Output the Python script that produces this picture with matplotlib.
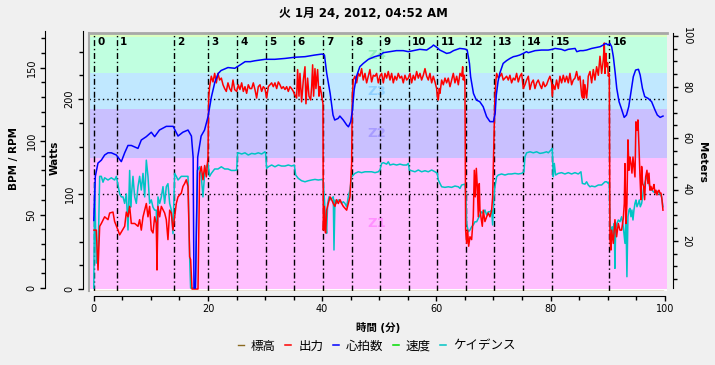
import matplotlib
matplotlib.use('Agg')
import matplotlib.pyplot as plt
from matplotlib.ticker import MultipleLocator
from matplotlib.lines import Line2D

plt.rcParams['font.family'] = ['DejaVu Sans', 'Noto Sans CJK JP']

# ---- data (time in minutes) ----
power_t = [0.04, 0.44, 0.74, 1.03, 1.32, 1.90, 2.49, 2.78, 3.36, 3.65,
           4.24, 4.53, 4.82, 5.41, 5.70, 5.99, 6.28, 6.57, 7.16, 7.74,
           8.03, 8.32, 8.62, 8.91, 9.20, 9.49, 9.78, 10.07, 10.37, 10.66,
           10.95, 11.07, 11.24, 11.54, 11.83, 12.41, 12.70, 12.99, 13.29, 13.58,
           13.87, 14.45, 14.75, 15.33, 15.62, 15.91, 16.20, 16.50, 16.79, 16.96,
           17.20, 18.25, 18.54, 18.83, 19.12, 19.42, 19.71, 20.00, 20.12, 20.29,
           20.58, 20.88, 21.17, 21.46, 21.75, 22.04, 22.34, 22.63, 22.92, 23.21,
           23.50, 23.80, 24.09, 24.38, 24.67,
           25.02, 25.31, 25.60, 25.90, 26.19, 26.48, 26.77, 27.06, 27.36, 27.65,
           27.94, 28.23, 28.52, 28.81, 29.11, 29.40, 29.69, 29.98, 30.27, 30.57,
           30.86, 31.15, 31.44, 31.73, 32.03, 32.32, 32.61, 32.90, 33.19, 33.49,
           33.78, 34.07, 34.36, 34.65, 34.95, 35.24, 35.53, 35.70, 35.94, 36.11,
           36.40, 36.70, 36.99, 37.16, 37.45, 37.69, 37.98, 38.16, 38.33, 38.50,
           38.74, 38.91, 39.20, 39.44, 39.61, 39.79, 40.02, 40.14, 40.20, 40.37,
           40.49, 40.61, 40.78, 41.07, 41.37, 41.66, 41.95, 42.24, 42.53, 42.83,
           43.12, 43.41, 43.70, 43.99, 44.29, 44.58, 44.87, 45.04, 45.16, 45.28,
           45.45, 45.74, 46.04, 46.33, 46.62, 46.91, 47.20, 47.50, 47.79, 48.08,
           48.37, 48.66, 48.96, 49.25, 49.54, 49.83, 50.12,
           50.42, 50.71, 51.00, 51.29, 51.58, 51.88, 52.17, 52.46, 52.75, 53.04,
           53.33, 53.63, 53.92, 54.21, 54.50, 54.80, 55.09, 55.38, 55.67, 55.96,
           56.25, 56.55, 56.84, 57.13, 57.42, 57.71, 58.01, 58.30, 58.59, 58.88,
           59.18, 59.47, 59.76, 60.05, 60.17, 60.34, 60.52, 60.63, 60.93, 61.22,
           61.51, 61.80, 62.09, 62.39, 62.68, 62.97, 63.26, 63.56, 63.85, 64.14,
           64.43, 64.61, 64.72, 64.90, 65.01, 65.13, 65.31, 65.48, 65.66, 65.89,
           66.18, 66.47, 66.65, 66.82, 67.00, 67.17, 67.35, 67.52, 67.64, 67.81,
           68.05, 68.22, 68.51, 68.81, 69.10, 69.39, 69.68, 69.86, 70.09, 70.26,
           70.44, 70.56, 70.85, 71.14, 71.43, 71.72, 72.02, 72.31, 72.60, 72.89,
           73.18, 73.48, 73.77, 74.06, 74.35, 74.65, 74.94, 75.23, 75.52, 75.81,
           76.11,
           76.39, 76.68, 76.98, 77.27, 77.56, 77.85, 78.14, 78.44, 78.73, 79.02,
           79.31, 79.61, 79.90, 80.19, 80.30, 80.48, 80.77, 81.06, 81.36, 81.65,
           81.94, 82.23, 82.52, 82.82, 83.11, 83.40, 83.69, 83.98, 84.28, 84.57,
           84.86, 85.15, 85.45, 85.62, 85.74, 85.91, 86.03, 86.32, 86.50, 86.61,
           86.91, 87.20, 87.49, 87.78, 88.07, 88.37, 88.66, 88.95, 89.24, 89.42,
           89.54, 89.71, 89.83, 90.00, 90.12, 90.29, 90.41, 90.58, 90.70, 90.99,
           91.28, 91.57, 91.87, 92.16, 92.45, 92.74, 92.92, 93.04, 93.21, 93.38,
           93.56, 93.74, 93.91, 94.09, 94.26, 94.44, 94.61, 94.79, 94.96, 95.14,
           95.31, 95.49, 95.67, 95.84, 95.96, 96.13, 96.31, 96.48, 96.66, 96.89,
           97.06, 97.24, 97.42, 97.59, 97.77, 97.94, 98.12, 98.29, 98.47, 98.64,
           98.82, 98.99, 99.17, 99.34, 99.52, 99.69]
power_w = [62, 62, 20, 66, 69, 76, 73, 80, 81, 71,
           62, 57, 60, 66, 81, 76, 87, 69, 69, 66,
           73, 62, 76, 83, 90, 76, 87, 62, 59, 76,
           69, 20, 87, 76, 87, 80, 73, 52, 83, 80,
           62, 90, 97, 101, 108, 111, 115, 108, 34, 31,
           0, 0, 122, 129, 115, 130, 118, 139, 202, 213,
           224, 218, 227, 217, 227, 220, 222, 215, 211, 208,
           217, 211, 208, 220, 210,
           208, 215, 210, 217, 208, 213, 206, 215, 211, 211,
           217, 210, 201, 213, 215, 208, 213, 211, 201, 213,
           215, 217, 213, 217, 211, 218, 215, 211, 213, 210,
           213, 208, 213, 211, 208, 204, 201, 231, 203, 227,
           197, 220, 234, 195, 222, 203, 199, 213, 236, 203,
           232, 211, 231, 203, 213, 208, 199, 195, 62, 87,
           62, 59, 83, 90, 97, 94, 90, 87, 94, 90,
           94, 90, 87, 85, 83, 90, 97, 118, 132, 203,
           220, 224, 217, 227, 224, 232, 220, 227, 217, 224,
           231, 218, 225, 224, 227, 217, 224,
           227, 217, 227, 222, 229, 220, 227, 217, 224, 220,
           227, 222, 224, 217, 225, 220, 222, 227, 217, 225,
           220, 229, 222, 227, 220, 225, 232, 224, 220, 227,
           217, 224, 218, 211, 203, 199, 211, 206, 220, 215,
           222, 217, 222, 213, 220, 227, 217, 224, 215, 227,
           224, 234, 220, 225, 217, 62, 48, 62, 45, 55,
           52, 76, 125, 97, 127, 108, 76, 111, 83, 76,
           66, 83, 71, 76, 80, 76, 83, 97, 157, 203,
           220, 227, 222, 224, 227, 220, 222, 224, 220, 225,
           217, 222, 220, 227, 218, 224, 227, 211, 215, 220,
           224,
           210, 217, 220, 211, 217, 220, 215, 211, 218, 213,
           215, 220, 224, 217, 203, 215, 210, 220, 211, 224,
           217, 225, 218, 224, 217, 227, 215, 220, 222, 229,
           220, 224, 204, 201, 220, 201, 215, 201, 213, 224,
           229, 217, 231, 220, 234, 225, 245, 227, 241, 259,
           227, 248, 234, 238, 224, 227, 52, 41, 62, 48,
           73, 55, 69, 62, 62, 74, 90, 132, 69, 90,
           157, 125, 139, 132, 122, 139, 129, 118, 176, 167,
           178, 150, 118, 94, 129, 111, 108, 94, 118, 125,
           111, 122, 104, 108, 104, 106, 110, 101, 104, 99,
           103, 104, 101, 101, 94, 83]

hr_t = [0.0, 0.27, 0.73, 1.32, 1.90, 2.49, 3.07, 3.95, 4.82, 5.41,
        5.99, 6.57, 7.74, 8.32, 9.20, 10.07, 10.66, 11.5, 12.7, 13.9,
        14.75, 15.6, 16.5, 17.1, 17.4, 17.55, 17.8, 18.2, 18.8, 19.4,
        20.0, 20.6, 21.2, 21.8, 22.3, 23.5, 24.7,
        25.6, 26.5, 27.4, 28.2, 30.0, 31.7, 33.5, 35.2, 37.0, 38.7,
        40.0, 40.4, 40.8, 41.4, 41.9, 42.2, 42.8, 43.1, 43.7, 44.3,
        44.6, 45.0, 45.3, 45.6, 46.0, 46.6, 47.2, 48.1, 49.2, 50.2,
        50.7, 51.9, 53.0, 54.2, 55.1, 56.0, 57.1, 58.3, 59.2, 59.5,
        60.1, 60.6, 61.2, 61.8, 62.4, 63.0, 64.1, 65.0, 65.4, 65.8,
        66.0, 66.5, 67.0, 67.6, 68.2, 68.8, 69.4, 70.0, 70.3, 70.5,
        70.8, 71.1, 71.7, 72.3, 72.9, 73.5, 74.0, 74.6, 75.2, 75.8,
        76.1, 77.3, 78.4, 79.6, 80.3, 80.8, 81.9, 82.5, 83.1, 84.3,
        84.6, 85.2, 85.7, 86.3, 87.2, 88.1, 88.7, 89.2, 89.7, 90.1,
        90.4, 90.7, 91.0, 91.3, 91.6, 92.0, 92.4, 92.9, 93.3, 93.7,
        94.1, 94.5, 94.9, 95.4, 95.7, 96.1, 96.5, 97.1, 97.7, 98.3,
        98.7, 99.2, 99.7]
hr_bpm = [46, 76, 85, 87, 90.5, 92, 92, 90.5, 86, 92,
          97, 97, 95, 100.7, 103, 106, 103, 107.5, 110, 110,
          103.4, 106, 107.5, 103.4, 89, 0, 0, 89, 103.4, 107.5,
          116.5, 130, 140, 146, 148, 150, 149.5,
          151.7, 154, 154, 154.6, 155.6, 155.6, 156.2, 157, 157.4, 158.5,
          159.2, 158.5, 146, 132.4, 117.7, 114.3, 115.4, 117, 114.3, 110.9,
          109.7, 113.1, 121, 134.7, 143.8, 150.6, 152.8, 155.6, 157.4, 158.5,
          160.1, 160.8, 161.5, 161.5, 160.8, 161.5, 162.4, 161.9, 164.2, 165.3,
          163.7, 161.9, 160.8, 159.6, 160.1, 161.5, 163, 162.6, 161.9, 152.8,
          143.8, 132.4, 127.9, 126.8, 123.4, 116.6, 113.2, 113.2, 118.8, 131.3,
          140.4, 146, 152.8, 154.7, 156.2, 157.4, 157.8, 158.5, 159.6, 160.8,
          160.1, 161.5, 161.9, 161.9, 162.4, 163, 162.4, 161.5, 162.4, 163,
          160.8, 161.5, 161.5, 161.9, 163, 163.7, 164.2, 165.3, 166.4, 165.3,
          166.4, 164.2, 157.4, 147.2, 135.8, 126.8, 122.2, 116.1, 117.7, 123.4,
          133.6, 143.8, 148.3, 148.8, 144.9, 135.8, 130.2, 129, 126.8, 121.1,
          117.7, 116.1, 117]

cad_t = [0.0, 0.15, 0.44, 0.74, 1.03, 1.32, 1.61, 1.90, 2.49, 3.07,
         3.65, 3.95, 4.24, 4.53, 4.82, 5.12, 5.41, 5.70, 5.99, 6.28,
         6.45, 6.57, 6.86, 7.16, 7.45, 7.74, 8.03, 8.32, 8.62, 8.91,
         9.20, 9.49, 9.78, 10.07, 10.37, 10.66, 10.95, 11.07, 11.24, 11.54,
         11.83, 12.12, 12.41, 12.70, 12.99, 13.29, 13.58, 13.87, 14.16, 14.45,
         14.75, 15.33, 15.91, 16.50, 16.79, 16.96, 17.8, 18.13, 18.54, 18.83,
         19.12, 19.42, 19.71, 20.0, 20.29, 20.58, 21.17, 21.75, 22.34, 22.92,
         23.50, 24.09, 24.67,
         25.02, 25.19, 25.31, 25.90, 26.48, 27.06, 27.65, 28.23, 28.81, 29.40,
         29.98, 30.10, 30.27, 30.57, 31.15, 31.73, 32.32, 32.90, 33.49, 34.07,
         34.65, 35.12, 35.36, 35.82, 36.40, 36.99, 37.57, 38.16, 38.74, 39.32,
         40.02, 40.20, 40.49, 40.61, 40.78, 40.96, 41.2, 41.37, 41.66, 41.95,
         42.07, 42.24, 42.53, 42.83, 43.12, 43.41, 43.70, 43.99, 44.29, 44.58,
         44.87, 45.16, 45.45, 45.74, 46.33, 46.91, 47.50, 48.08, 48.66, 49.25,
         49.83, 50.12, 50.42,
         50.71, 51.29, 51.58, 51.88, 52.46, 53.04, 53.63, 54.21, 54.80, 55.09,
         55.27, 55.67, 56.25, 56.84, 57.42, 58.01, 58.59, 59.18, 59.76, 60.17,
         60.34, 60.63, 60.93, 61.51, 62.09, 62.68, 63.26, 63.85, 64.14, 64.43,
         65.01, 65.19, 65.31, 65.60, 65.89, 66.18, 66.47, 66.77, 67.06, 67.35,
         67.64, 67.94, 68.22, 68.51, 68.81, 69.10, 69.39, 69.68, 69.86, 70.09,
         70.26, 70.56, 70.85, 71.43, 72.02, 72.60, 73.18, 73.77, 74.35, 74.94,
         75.34, 75.52, 75.81, 76.40,
         76.98, 77.56, 78.14, 78.73, 79.31, 79.61, 80.08, 80.30, 80.48, 80.66,
         80.89, 81.36, 81.94, 82.52, 83.11, 83.69, 84.28, 84.86, 85.33, 85.57,
         86.03, 86.32, 86.61, 86.91, 87.20, 87.78, 88.37, 88.95, 89.24, 89.54,
         89.83, 90.12, 90.29, 90.41, 90.58, 90.82, 90.99, 91.16, 91.28, 91.40,
         91.63, 91.87, 92.16, 92.45, 92.74, 93.04, 93.21, 93.38, 93.56, 93.74,
         93.91, 94.09, 94.26, 94.44, 94.61, 94.79, 94.96, 95.14, 95.37, 95.55,
         95.72, 95.96, 96.13, 96.31, 96.48, 96.66, 96.83, 97.00, 97.18, 97.36,
         97.53, 97.71, 98.00, 98.29, 98.58, 98.87, 99.17, 99.46, 99.69]
cad_rpm = [0, 71, 17, 19, 76, 76, 72, 75, 73.5, 75,
           73.5, 76, 70, 64, 62, 62, 57.6, 64, 39.5, 80,
           55, 62, 76, 62, 57.6, 69, 76, 66.7, 78, 62,
           87, 76, 57.6, 60, 55, 53, 53, 21, 62, 57.6,
           62, 69, 57.6, 69, 71, 57.6, 53, 37, 78, 76,
           73.5, 76, 76, 76, 21, 0, 0, 80, 82.5, 76,
           62, 78, 82.5, 85, 76, 78, 81, 81, 82.5, 81,
           81, 80, 80,
           80.3, 92, 92, 91.2, 92, 90.5, 91.6, 91.2, 92, 91.2,
           92.7, 91.6, 81.4, 82.5, 83.7, 82.5, 83.7, 83, 83, 83.7,
           83, 83.7, 76.9, 74.6, 73, 72.3, 73, 73.5, 73.9, 73.5,
           73.9, 72.3, 53, 46.3, 37.2, 57.6, 62.1, 59.9, 61, 62.1,
           25.9, 59.9, 57.6, 59.9, 59.9, 57.6, 58.7, 57.6, 55.3, 62.1,
           66.7, 75.7, 76.9, 78, 79.1, 78.5, 79.1, 79.1, 79.1, 78.5,
           79.1, 80.3, 84.8,
           85.3, 84.3, 85.9, 83.7, 84.3, 83.7, 84.3, 83.7, 83.7, 84.8,
           80.3, 79.8, 79.1, 80.3, 79.1, 79.8, 79.1, 80.3, 79.1, 78,
           73.5, 71.2, 68.9, 68.5, 68.9, 68.5, 69.4, 68.9, 67.8, 70.1,
           70.7, 62.1, 44, 38.3, 39.5, 41.7, 42.9, 45.1, 45.1, 47.4,
           49.7, 51.9, 50.8, 53.1, 49.7, 51.9, 51.9, 53.1, 42.9, 62.1,
           68.9, 75.7, 76.9, 77.6, 76.9, 77.6, 77.6, 78, 77.6, 78,
           79.1, 89.3, 92, 92.7,
           92, 92.7, 91.6, 92, 92.7, 92, 93.9, 95, 75.7, 84.8,
           76.9, 78, 78.5, 77.6, 78.5, 77.6, 78.5, 77.6, 79.1, 71.2,
           70.7, 72.3, 70.1, 68.9, 69.4, 68.9, 70.1, 70.1, 71.2, 72.3,
           72.3, 71.2, 72.3, 44, 39.5, 41.7, 34.9, 44, 13.4, 39.5,
           44, 46.3, 45.1, 48.5, 41.7, 30.4, 48.5, 7.7, 48.5, 53.1,
           54.2, 48.5, 53.1, 46.3, 53.1, 57.6, 59.9, 55.3, 57.6, 59.9,
           55.3, 57.6, 62.1, 68.9, 71.2, 73.5, 75.7, 74.6, 72.3, 68.9,
           66.7, 67.1, 65.5, 64.9, 64.4, 65.5, 64, 62.1, 55.3]

alt_t = [0.0, 99.7]
alt_m = [0.5, 0.5]
speed_t = []
speed_kph = []

interval_t = [0, 4.0, 14.0, 20.0, 25.05, 30.1, 35.1, 40.15, 45.2,
              50.2, 55.15, 60.2, 65.15, 70.15, 75.25, 80.25, 90.3]
interval_names = ['0', '1', '2', '3', '4', '5', '6', '7', '8',
                  '9', '10', '11', '12', '13', '14', '15', '16']

zone_names = ['Z1', 'Z2', 'Z3', 'Z4', 'Z5']
zone_lo = [0, 138, 189, 227, 265]
zone_hi = [138, 189, 227, 265, 302]
zone_fill = ['#ffbfff', '#c9c0ff', '#c0e8ff', '#c0ffe0', '#dcffc0']
zone_text = ['#ff90ff', '#a89cff', '#8fd0ff', '#8ff2bf', '#b8f090']

title = '火 1月 24, 2012, 04:52 AM'

PX = 72 / 100  # points per pixel at 100 dpi

# ---- figure ----
fig = plt.figure(figsize=(7.15, 3.65), dpi=100)
fig.patch.set_facecolor('#f0f0f0')
rect = [89 / 715, 74 / 365, 578 / 715, 258 / 365]

ax = fig.add_axes(rect)
ax.set_xlim(-0.84, 100.4)
ax.set_ylim(-2.1, 269.5)
ax.set_facecolor('white')

for lo, hi, c in zip(zone_lo, zone_hi, zone_fill):
    ax.axhspan(lo, hi, color=c, lw=0, zorder=0)
for name, lo, hi, c in zip(zone_names, zone_lo, zone_hi, zone_text):
    mid = (lo + hi) / 2
    if mid < ax.get_ylim()[1]:
        ax.text(49.5, mid, name, color=c, fontsize=9.5, fontweight='bold',
                ha='center', va='center', zorder=1)

for w in [100, 200]:
    ax.axhline(w, color='black', lw=1, ls=(0, (1, 2.2)), zorder=2)
for t, name in zip(interval_t, interval_names):
    ax.axvline(t, color='black', lw=1, ls=(0, (4.3, 2, 1, 2)), zorder=2)
    ax.annotate(name, (t, 0.966), xycoords=('data', 'axes fraction'),
                xytext=(2.5, 0), textcoords='offset points',
                fontsize=7.5, fontweight='bold', ha='left', va='center')

# spines: left = Watts scale, bottom = time scale, top = frame
ax.spines['right'].set_visible(False)
ax.spines['top'].set_color('#a8a8a8')
ax.spines['top'].set_linewidth(2)
ax.spines['left'].set_position(('outward', 6 * PX))
ax.spines['left'].set_bounds(0, 272)
ax.spines['bottom'].set_position(('outward', 5 * PX))
ax.spines['bottom'].set_bounds(0, 100)
ax.add_line(Line2D([0, 0], [0, 1], transform=ax.transAxes, color='#a8a8a8',
                   lw=1.5, clip_on=False))
ax.xaxis.set_major_locator(MultipleLocator(20))
ax.xaxis.set_minor_locator(MultipleLocator(5))
ax.yaxis.set_major_locator(MultipleLocator(100))
ax.yaxis.set_minor_locator(MultipleLocator(25))
ax.tick_params(which='both', direction='out', width=1, labelsize=7, pad=2.5)
ax.tick_params(which='major', length=5 * PX)
ax.tick_params(which='minor', length=4 * PX)
ax.tick_params(axis='y', labelrotation=90)
plt.setp(ax.get_yticklabels(), va='center')


def overlay(ylim):
    a = ax.twinx()
    a.set_ylim(*ylim)
    for s in a.spines.values():
        s.set_visible(False)
    a.tick_params(right=False, labelright=False)
    return a


# meters (right)
axm = overlay((0.39, 101.1))
axm.spines['right'].set_visible(True)
axm.spines['right'].set_position(('outward', 6 * PX))
axm.spines['right'].set_bounds(1.5, 101)
axm.yaxis.set_major_locator(MultipleLocator(20))
axm.yaxis.set_minor_locator(MultipleLocator(5))
axm.tick_params(which='both', right=True, labelright=True, direction='out',
                width=1, labelsize=7, pad=2.5, labelrotation=-90)
axm.tick_params(which='major', length=5 * PX)
axm.tick_params(which='minor', length=4 * PX)
plt.setp(axm.get_yticklabels(), va='center')
l_alt, = axm.plot(alt_t, alt_m, color='#8a6a20', lw=1)

# cadence (BPM / RPM scale)
axc = overlay((-2.0, 173.5))
l_cad, = axc.plot(cad_t, cad_rpm, color='#00c4c4', lw=1.1)
l_spd, = axc.plot(speed_t, speed_kph, color='#00dd00', lw=1.1)

# power (watts)
axp = overlay(ax.get_ylim())
l_pow, = axp.plot(power_t, power_w, color='#ff0000', lw=1.1)

# heart rate, with the BPM / RPM scale drawn on the far left
axh = overlay((-2.0, 173.5))
l_hr, = axh.plot(hr_t, hr_bpm, color='#0000ff', lw=1.1)
axh.spines['left'].set_visible(True)
axh.spines['left'].set_position(('outward', 44 * PX))
axh.spines['left'].set_bounds(0, 175)
axh.yaxis.set_ticks_position('left')
axh.yaxis.set_major_locator(MultipleLocator(50))
axh.yaxis.set_minor_locator(MultipleLocator(10))
axh.tick_params(which='both', left=True, labelleft=True, direction='out',
                width=1, labelsize=7, pad=2.5, labelrotation=90)
axh.tick_params(which='major', length=5 * PX)
axh.tick_params(which='minor', length=4 * PX)
plt.setp(axh.get_yticklabels(), va='center')

# texts
fig.text(0.509, 0.962, title, fontsize=8.5, fontweight='bold', ha='center', va='center')
fig.text(0.529, 0.104, '時間 (分)', fontsize=7.5, fontweight='bold', ha='center', va='center')
fig.text(0.019, 0.567, 'BPM / RPM', fontsize=7.5, fontweight='bold', rotation=90,
         ha='center', va='center')
fig.text(0.077, 0.567, 'Watts', fontsize=7.5, fontweight='bold', rotation=90,
         ha='center', va='center')
fig.text(0.982, 0.556, 'Meters', fontsize=7.5, fontweight='bold', rotation=-90,
         ha='center', va='center')

fig.legend([l_alt, l_pow, l_hr, l_spd, l_cad],
           ['標高', '出力', '心拍数', '速度', 'ケイデンス'],
           loc='center', bbox_to_anchor=(0.527, 0.052), ncol=5, frameon=False,
           fontsize=9, handlelength=0.5, handletextpad=0.55, columnspacing=0.75)

fig.savefig('out.png', dpi=100, facecolor=fig.get_facecolor())
